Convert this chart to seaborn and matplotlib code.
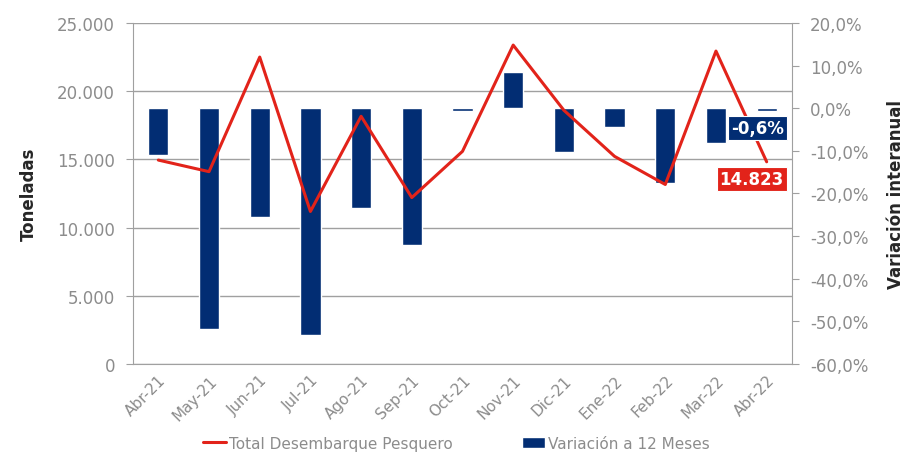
import matplotlib
matplotlib.use('Agg')
import matplotlib.pyplot as plt
import seaborn as sns
import pandas as pd
from matplotlib.lines import Line2D
from matplotlib.patches import Patch

meses = ['Abr-21', 'May-21', 'Jun-21', 'Jul-21', 'Ago-21', 'Sep-21', 'Oct-21',
         'Nov-21', 'Dic-21', 'Ene-22', 'Feb-22', 'Mar-22', 'Abr-22']
# toneladas (eje izquierdo)
desembarque = [14950, 14100, 22500, 11180, 18160, 12200, 15590,
               23380, 18600, 15220, 13160, 22940, 14823]
# variacion a 12 meses, % (eje derecho)
variacion = [-11.0, -51.9, -25.6, -53.1, -23.5, -32.2, -0.7,
             8.5, -10.3, -4.5, -17.6, -8.2, -0.6]

df = pd.DataFrame({'mes': meses, 'ton': desembarque, 'var': variacion})
df['mes'] = pd.Categorical(df['mes'], categories=meses, ordered=True)

navy = '#022d73'
red = '#e2231a'
grey = '#8c8c8c'

sns.set_style('white')
plt.rcParams['font.family'] = ['DejaVu Sans']

fig = plt.figure(figsize=(9.09, 4.56), dpi=100)
ax = fig.add_axes([0.1463, 0.1996, 0.725, 0.7478])
ax2 = ax.twinx()   # barras
ax3 = ax.twinx()   # linea, encima de todo

# barras de variacion
sns.barplot(data=df, x='mes', y='var', color=navy, width=0.4, saturation=1,
            ax=ax2, order=meses)
ax2.set_ylim(-60, 20)
ax2.set_yticks(range(-60, 21, 10))
ax2.set_yticklabels([f'{v},0%' for v in range(-60, 21, 10)])
ax2.set_ylabel('Variación interanual', fontsize=12, fontweight='bold',
               rotation=90, labelpad=13)

# linea de desembarque
sns.lineplot(x=list(range(len(meses))), y=desembarque, color=red, lw=2.2, ax=ax3)
ax3.set_ylim(0, 25000)
ax3.set_xlim(-0.5, len(meses) - 0.5)
ax3.set_yticks([])
for s in ax3.spines.values():
    s.set_visible(False)

# eje izquierdo
ax.set_xlim(-0.5, len(meses) - 0.5)
ax.set_ylim(0, 25000)
ax.set_yticks(range(0, 25001, 5000))
ax.set_yticklabels(['0'] + [f'{v // 1000}.000' for v in range(5000, 25001, 5000)])
ax.grid(axis='y', color='#a0a0a0', lw=1)
ax.set_ylabel('Toneladas', fontsize=12, fontweight='bold', labelpad=14)

# x ticks at category boundaries, labels at centers
ax.set_xticks([i - 0.5 for i in range(len(meses) + 1)])
ax.set_xticklabels([])
ax.set_xticks(range(len(meses)), minor=True)
ax.set_xticklabels(meses, minor=True, rotation=45, ha='right',
                   rotation_mode='anchor', fontsize=11, color=grey)
ax.tick_params(axis='x', which='minor', length=0, pad=6)
ax.tick_params(axis='x', which='major', length=5, color='#a0a0a0', direction='out')
ax2.set_xlabel('')
ax2.set_xticks([])
ax3.set_xticks([])

ax.tick_params(axis='y', length=5, color='#a0a0a0', labelsize=12,
               labelcolor=grey, pad=8)
ax2.tick_params(axis='y', length=5, color='#a0a0a0', labelsize=12,
                labelcolor=grey, pad=8)

for a in (ax, ax2):
    a.spines['top'].set_visible(False)
    for k in ('left', 'right', 'bottom'):
        a.spines[k].set_color('#a0a0a0')
ax.spines['right'].set_visible(False)
ax2.spines['left'].set_visible(False)
ax2.spines['bottom'].set_visible(False)

# etiquetas del ultimo dato (encima de la linea)
ax3.annotate('-0,6%', xy=(12, variacion[-1]), xycoords=ax2.transData,
             xytext=(-9, -17), textcoords='offset pixels', ha='center', va='center',
             color='white', fontsize=12, fontweight='bold',
             bbox=dict(boxstyle='square,pad=0.18', fc=navy, ec='white', lw=0.8))
ax3.annotate('14.823', xy=(12, desembarque[-1]), xytext=(-15, -17),
             textcoords='offset pixels', ha='center', va='center',
             color='white', fontsize=12, fontweight='bold',
             bbox=dict(boxstyle='square,pad=0.18', fc=red, ec='white', lw=0.8))

handles = [Line2D([0], [0], color=red, lw=2.2),
           Patch(facecolor=navy)]
fig.legend(handles, ['Total Desembarque Pesquero', 'Variación a 12 Meses'],
           loc='center', bbox_to_anchor=(0.502, 0.026), ncol=2, frameon=False,
           fontsize=11, labelcolor=grey, handlelength=1.5, handletextpad=0.2,
           columnspacing=4.5, borderpad=0.1)

fig.savefig('out.png', dpi=100)
